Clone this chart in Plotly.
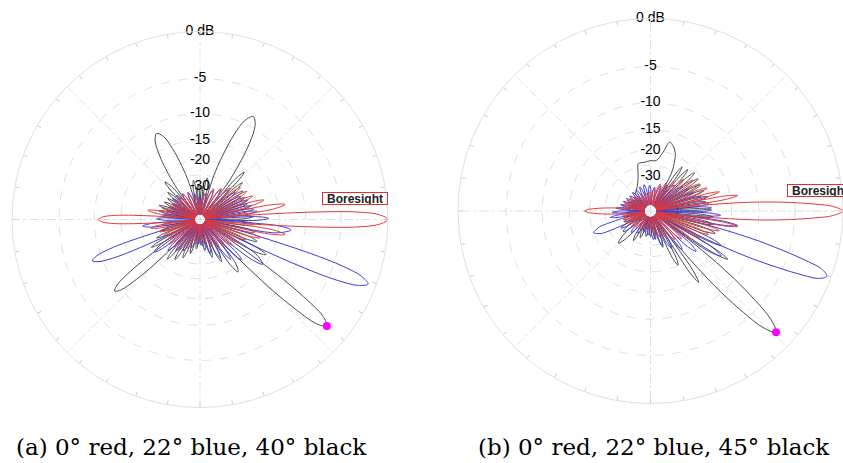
import numpy as np
import plotly.graph_objects as go

# ---------------- scale / labels ----------------
RING_DB = [-30, -25, -20, -15, -10, -5]
LABEL_DB = [-30, -20, -15, -10, -5, 0]
LABEL_TEXT = ["-30", "-20", "-15", "-10", "-5", "0 dB"]

# Pattern vertices: (angle in degrees, gain in dB), in angle order.
# ---------------- panel (a) ----------------
A_RED = [
    (-180, -10.6), (-178.5, -11.4), (-177.3, -13.6), (-176.4, -18), (-175.7, -24.5), (-174.8, -36), (-174, -62),
    (-171.9, -26), (-170, -23), (-168.2, -26), (-166.5, -62),
    (-164.7, -29), (-163, -26), (-161.3, -29), (-159.5, -62),
    (-157.7, -30), (-156, -27), (-154.3, -30), (-152.5, -62),
    (-150.8, -31), (-149, -28), (-147, -31), (-145, -62),
    (-143.3, -30), (-141.5, -27), (-139.5, -30), (-137.5, -62),
    (-135.5, -31), (-133.5, -28), (-131.2, -31), (-129, -62),
    (-126.8, -31), (-124.5, -28), (-121.8, -31), (-119, -62),
    (-116.5, -34), (-114, -31), (-110.8, -34), (-107.5, -62),
    (-104.2, -38), (-101, -35), (-98, -38), (-95, -62),
    (-92.5, -41), (-90, -38), (-87.5, -41), (-85, -62),
    (-82, -38), (-79, -35), (-75.5, -38), (-72, -62),
    (-69, -35), (-66, -32), (-63.2, -35), (-60.5, -62),
    (-58, -33), (-55.5, -30), (-53.2, -33), (-51, -62),
    (-48.7, -31.5), (-46.5, -28.5), (-44.5, -31.5), (-42.5, -62),
    (-40.5, -29.5), (-38.5, -26.5), (-36.5, -29.5), (-34.5, -62),
    (-32.7, -28), (-31, -25), (-29.2, -28), (-27.5, -62),
    (-25.7, -26), (-24, -23), (-22.2, -26), (-20.5, -62),
    (-18.7, -22), (-17, -19), (-15.2, -22), (-13.5, -62),
    (-11.7, -16.5), (-10, -13.5), (-8, -16.5), (-6, -62),
    (-5.2, -26), (-4.3, -14), (-3.6, -7.5), (-2.7, -3), (-1.5, -0.8), (0, 0),
    (1.5, -0.8), (2.7, -3), (3.6, -7.5), (4.3, -14), (5.2, -26), (6, -62),
    (8, -16.5), (10, -13.5), (11.7, -16.5), (13.5, -62),
    (15.2, -21), (17, -18), (18.7, -21), (20.5, -62),
    (22.2, -23.5), (24, -20.5), (25.7, -23.5), (27.5, -62),
    (29.2, -24.5), (31, -21.5), (32.7, -24.5), (34.5, -62),
    (36.5, -25.5), (38.5, -22.5), (40.5, -25.5), (42.5, -62),
    (44.5, -28.5), (46.5, -25.5), (48.7, -28.5), (51, -62),
    (53.2, -31), (55.5, -28), (58, -31), (60.5, -62),
    (63.2, -33), (66, -30), (69, -33), (72, -62),
    (75.5, -37), (79, -34), (82, -37), (85, -62),
    (87.5, -42), (90, -39), (92.5, -42), (95, -62),
    (98, -39), (101, -36), (104.2, -39), (107.5, -62),
    (110.8, -36), (114, -33), (116.5, -36), (119, -62),
    (121.8, -34), (124.5, -31), (126.8, -34), (129, -62),
    (131.2, -35), (133.5, -32), (135.5, -35), (137.5, -62),
    (139.5, -34), (141.5, -31), (143.3, -34), (145, -62),
    (147, -34), (149, -31), (150.8, -34), (152.5, -62),
    (154.3, -33), (156, -30), (157.7, -33), (159.5, -62),
    (161.3, -30), (163, -27), (164.7, -30), (166.5, -62),
    (168.2, -25), (170, -22), (171.9, -25), (174, -62),
    (174.8, -36), (175.7, -24.5), (176.4, -18), (177.3, -13.6), (178.5, -11.4), (180, -10.6),
]

A_BLUE = [
    (-177, -62), (-175.3, -23.5), (-173.5, -20.5), (-171, -23.5), (-165.4, -62),
    (-164.6, -35), (-163.6, -22.6), (-162.9, -16.1), (-161.9, -11.7), (-160.6, -9.4), (-159, -8.5),
    (-157.4, -9.4), (-156.1, -11.7), (-155.1, -16.1), (-154.4, -22.6), (-153.4, -35), (-152.6, -62),
    (-147.5, -24), (-144.5, -21), (-142.3, -24), (-140, -62),
    (-138, -28), (-136, -25), (-133.8, -28), (-131.5, -62),
    (-129.5, -30), (-127.5, -27), (-125.3, -30), (-123, -62),
    (-120.5, -32), (-118, -29), (-115.3, -32), (-112.5, -62),
    (-109.8, -35), (-107, -32), (-104, -35), (-101, -62),
    (-98, -38), (-95, -35), (-92.5, -38), (-90, -62),
    (-87.5, -37), (-85, -34), (-82, -37), (-79, -62),
    (-76, -32), (-73, -29), (-70.2, -32), (-67.5, -62),
    (-64.8, -28.5), (-62, -25.5), (-59.5, -28.5), (-57, -62),
    (-54.8, -26), (-52.5, -23), (-50.2, -26), (-48, -62),
    (-46, -23.5), (-44, -20.5), (-42, -23.5), (-40, -62),
    (-37.8, -18.5), (-35.5, -15.5), (-31.5, -18.5), (-27.4, -62),
    (-26.6, -27), (-25.6, -14.8), (-24.9, -8.3), (-23.9, -3.9), (-22.6, -1.6), (-21, -0.75),
    (-19.4, -1.6), (-18.1, -3.9), (-17.1, -8.3), (-16.4, -14.8), (-15.4, -27), (-14.6, -62),
    (-10, -15.5), (-6.5, -12.5), (-4.5, -15.5), (-2.5, -62),
    (-0.8, -20.5), (1, -17.5), (2.8, -20.5), (4.5, -62),
    (6.2, -23.5), (8, -20.5), (9.8, -23.5), (11.5, -62),
    (13.2, -25), (15, -22), (16.8, -25), (18.5, -62),
    (20.2, -25.5), (22, -22.5), (24, -25.5), (26, -62),
    (27.7, -27), (29.5, -24), (31.5, -27), (33.5, -62),
    (35.5, -28), (37.5, -25), (39.8, -28), (42, -62),
    (44, -29.5), (46, -26.5), (48.5, -29.5), (51, -62),
    (53.2, -31.5), (55.5, -28.5), (58.2, -31.5), (61, -62),
    (63.5, -34), (66, -31), (69, -34), (72, -62),
    (75, -37), (78, -34), (81, -37), (84, -62),
    (87, -39), (90, -36), (93, -39), (96, -62),
    (99, -37), (102, -34), (105, -37), (108, -62),
    (111, -35), (114, -32), (116.5, -35), (119, -62),
    (121.8, -34.5), (124.5, -31.5), (126.8, -34.5), (129, -62),
    (131.5, -33), (134, -30), (136, -33), (138, -62),
    (140.3, -32.5), (142.5, -29.5), (144.5, -32.5), (146.5, -62),
    (148.5, -34), (150.5, -31), (152.3, -34), (154, -62),
    (156, -33.5), (158, -30.5), (159.8, -33.5), (161.5, -62),
    (163.3, -33), (165, -30), (166.8, -33), (168.5, -62),
    (170.3, -31.5), (172, -28.5), (173.8, -31.5), (175.5, -62),
    (177.3, -28.5), (179, -25.5), (181, -28.5),
]

A_BLACK = [
    (-176, -62), (-174, -30.5), (-172, -27.5), (-170, -30.5), (-168, -62),
    (-166, -29.5), (-164, -26.5), (-162.2, -29.5), (-160.5, -62),
    (-158.7, -27), (-157, -24), (-155.3, -27), (-153.5, -62),
    (-151.9, -24), (-150.3, -21), (-148.6, -24), (-146.9, -62),
    (-146.1, -36), (-145.1, -24), (-144.3, -17.4), (-143.3, -13.4), (-141.8, -10.1), (-140, -9.1),
    (-138.2, -10.1), (-136.7, -13.4), (-135.7, -17.4), (-134.9, -24), (-133.9, -36), (-133.1, -62),
    (-131.3, -25.5), (-129.5, -22.5), (-127.6, -25.5), (-125.7, -62),
    (-123.8, -27), (-122, -24), (-120, -27), (-118, -62),
    (-116, -29), (-114, -26), (-112, -29), (-110, -62),
    (-108, -32), (-106, -29), (-103.7, -32), (-101.5, -62),
    (-99.2, -35), (-97, -32), (-95, -35), (-93, -62),
    (-91, -38), (-89, -35), (-87, -38), (-85, -62),
    (-83, -34), (-81, -31), (-78.7, -34), (-76.5, -62),
    (-74.2, -30), (-72, -27), (-69.7, -30), (-67.5, -62),
    (-65.2, -27), (-63, -24), (-60.7, -27), (-58.5, -62),
    (-56.2, -21.5), (-54, -18.5), (-50.5, -21.5), (-46.9, -62),
    (-46.1, -29), (-45.1, -17), (-44.3, -10.5), (-43.3, -6.5), (-41.8, -3.2), (-40, -2.2),
    (-38.2, -3.2), (-36.7, -6.5), (-35.7, -10.5), (-34.9, -17), (-33.9, -29), (-33.1, -62),
    (-30.5, -19), (-28, -16), (-26.2, -19), (-24.5, -62),
    (-22.8, -22.5), (-21, -19.5), (-19, -22.5), (-17, -62),
    (-15, -24), (-13, -21), (-11, -24), (-9, -62),
    (-7, -24.5), (-5, -21.5), (-3, -24.5), (-1, -62),
    (1, -25), (3, -22), (5, -25), (7, -62),
    (9, -24.5), (11, -21.5), (13, -24.5), (15, -62),
    (16.8, -26), (18.5, -23), (20.2, -26), (22, -62),
    (24, -26), (26, -23), (28, -26), (30, -62),
    (31.8, -25.5), (33.5, -22.5), (35.5, -25.5), (37.5, -62),
    (39.3, -24), (41, -21), (42.5, -24), (44, -62),
    (45.5, -21.5), (47, -18.5), (48.8, -21.5), (50.6, -62),
    (52.6, -25), (54.6, -18), (57.1, -12.5), (59.6, -9.5), (62.6, -8.4), (65.6, -9.5),
    (68.1, -12.5), (70.6, -18), (72.6, -25), (74.6, -62),
    (77.3, -29), (80, -26), (81.8, -29), (83.3, -62),
    (84.9, -33), (86.5, -30), (88.2, -33), (89.8, -62),
    (91.4, -32), (93, -29), (94.6, -32), (96.2, -62),
    (97.8, -30), (99.5, -27), (102, -30), (104.7, -62),
    (106.7, -28), (108.7, -21), (111.2, -15.7), (113.7, -12.7), (116.7, -11.6), (119.7, -12.7),
    (122.2, -15.7), (124.7, -21), (126.7, -28), (128.7, -62),
    (130.8, -25.5), (133, -22.5), (134.8, -25.5), (136.5, -62),
    (138.2, -29), (140, -26), (141.8, -29), (143.5, -62),
    (145.2, -30.5), (147, -27.5), (148.8, -30.5), (150.5, -62),
    (152.2, -30), (154, -27), (155.8, -30), (157.5, -62),
    (159.2, -28.5), (161, -25.5), (162.8, -28.5), (164.5, -62),
    (166.2, -29), (168, -26), (169.8, -29), (171.5, -62),
    (173.2, -30.5), (175, -27.5), (176.8, -30.5), (178.5, -62),
]

A_PEAK_THETA = [-40]
A_PEAK_DB = [-2.2]

# ---------------- panel (b) ----------------
B_RED = [
    (-180, -18.6), (-178.5, -19.6), (-177.7, -21.1), (-176.5, -24.1), (-175.5, -27.6), (-174.8, -31), (-174, -37.6),
    (-173, -60),
    (-171.2, -36), (-169.5, -33), (-167.8, -36), (-166, -60),
    (-164.2, -36), (-162.5, -33), (-160.8, -36), (-159, -60),
    (-157.2, -37), (-155.5, -34), (-153.8, -37), (-152, -60),
    (-150, -38), (-148, -35), (-146, -38), (-144, -60),
    (-141.8, -39), (-139.5, -36), (-137.2, -39), (-135, -60),
    (-132.5, -40), (-130, -37), (-127.5, -40), (-125, -60),
    (-122, -41), (-119, -38), (-116, -41), (-113, -60),
    (-109.5, -43), (-106, -40), (-102.5, -43), (-99, -60),
    (-96, -43), (-93, -40), (-90.5, -43), (-88, -60),
    (-85, -40), (-82, -37), (-79, -40), (-76, -60),
    (-73, -37), (-70, -34), (-67.2, -37), (-64.5, -60),
    (-61.8, -34), (-59, -31), (-56.8, -34), (-54.5, -60),
    (-52.2, -31.5), (-50, -28.5), (-48, -31.5), (-46, -60),
    (-44, -29.5), (-42, -26.5), (-40.2, -29.5), (-38.5, -60),
    (-36.8, -27), (-35, -24), (-33.2, -27), (-31.5, -60),
    (-29.8, -24.5), (-28, -21.5), (-26.5, -24.5), (-25, -60),
    (-23.5, -22.5), (-22, -19.5), (-20.5, -22.5), (-19, -60),
    (-17.5, -20.2), (-16, -17.2), (-14.5, -20.2), (-13, -60),
    (-11.5, -16.5), (-10, -13.5), (-8.7, -16.5), (-7.4, -60),
    (-6.8, -30), (-6, -19), (-5.2, -12.5), (-4.5, -9), (-3.5, -5.5), (-2.3, -2.5), (-1.5, -1.0), (0, 0),
    (1.5, -1.0), (2.3, -2.5), (3.5, -5.5), (4.5, -9), (5.2, -12.5), (6, -19), (6.8, -30), (7.4, -60),
    (8.7, -16.5), (10, -13.5), (11.5, -16.5), (13, -60),
    (14.2, -20.2), (15.5, -17.2), (17, -20.2), (18.5, -60),
    (20.2, -23), (22, -20), (23.8, -23), (25.5, -60),
    (27.2, -24.5), (29, -21.5), (30.8, -24.5), (32.5, -60),
    (34.2, -25.5), (36, -22.5), (38, -25.5), (40, -60),
    (41.7, -28), (43.5, -25), (45.5, -28), (47.5, -60),
    (49.5, -31.5), (51.5, -28.5), (53.8, -31.5), (56, -60),
    (58.2, -34), (60.5, -31), (62.8, -34), (65, -60),
    (67.5, -36), (70, -33), (72.8, -36), (75.5, -60),
    (78.2, -40), (81, -37), (84, -40), (87, -60),
    (90, -43), (93, -40), (96, -43), (99, -60),
    (102.5, -43), (106, -40), (109.5, -43), (113, -60),
    (116, -43), (119, -40), (122, -43), (125, -60),
    (127.5, -43), (130, -40), (132.5, -43), (135, -60),
    (137.2, -41), (139.5, -38), (141.8, -41), (144, -60),
    (146, -39), (148, -36), (150, -39), (152, -60),
    (153.8, -38), (155.5, -35), (157.2, -38), (159, -60),
    (160.8, -37), (162.5, -34), (164.2, -37), (166, -60),
    (167.8, -36), (169.5, -33), (171.2, -36), (173, -60),
    (174, -37.6), (174.8, -31), (175.5, -27.6), (176.5, -24.1), (177.7, -21.1), (178.5, -19.6), (180, -18.6),
]

B_BLUE = [
    (-174.5, -60), (-172.7, -30), (-171, -27), (-169, -30), (-167, -60),
    (-166.2, -40), (-165.4, -32.4), (-164.5, -28.9), (-163.8, -25.3), (-162.7, -22.2), (-160.6, -20.7), (-159, -20),
    (-157.4, -20.7), (-155.3, -22.2), (-154.2, -25.3), (-153.5, -28.9), (-152.6, -32.4), (-151.8, -40), (-151, -60),
    (-146.5, -33), (-143, -30), (-140.2, -33), (-137.5, -60),
    (-134.8, -36), (-132, -33), (-129, -36), (-126, -60),
    (-123, -38), (-120, -35), (-117, -38), (-114, -60),
    (-111, -40), (-108, -37), (-105, -40), (-102, -60),
    (-99, -39), (-96, -36), (-93, -39), (-90, -60),
    (-87, -36), (-84, -33), (-80.8, -36), (-77.5, -60),
    (-74.5, -32), (-71.5, -29), (-68.8, -32), (-66, -60),
    (-63.2, -29), (-60.5, -26), (-58, -29), (-55.5, -60),
    (-53, -26.5), (-50.5, -23.5), (-48.2, -26.5), (-46, -60),
    (-43.8, -23), (-41.5, -20), (-39.2, -23), (-37, -60),
    (-34.8, -17.5), (-32.5, -14.5), (-30.3, -17.5), (-28.2, -60),
    (-27.5, -30), (-26.7, -19.5), (-25.8, -12.8), (-25.1, -9.3), (-24, -5.7), (-22.8, -2.6), (-21.9, -1.1),
    (-20.3, -0.4), (-18.7, -1.1), (-17.8, -2.6), (-16.6, -5.7), (-15.5, -9.3), (-14.8, -12.8), (-13.9, -19.5),
    (-13.1, -30), (-12.4, -60),
    (-11, -16.5), (-9.5, -13.5), (-8, -16.5), (-6.5, -60),
    (-5, -20.5), (-3.5, -17.5), (-2, -20.5), (-0.5, -60),
    (1.2, -23), (3, -20), (4.7, -23), (6.3, -60),
    (7.9, -24.5), (9.5, -21.5), (11.1, -24.5), (12.7, -60),
    (14.3, -25.5), (16, -22.5), (17.8, -25.5), (19.5, -60),
    (21.2, -27.5), (23, -24.5), (24.8, -27.5), (26.5, -60),
    (28.2, -28.5), (30, -25.5), (32, -28.5), (34, -60),
    (36, -30), (38, -27), (40.2, -30), (42.5, -60),
    (44.7, -32.5), (47, -29.5), (49.5, -32.5), (52, -60),
    (54.5, -35), (57, -32), (59.7, -35), (62.5, -60),
    (65.2, -37), (68, -34), (71, -37), (74, -60),
    (77, -39), (80, -36), (83, -39), (86, -60),
    (89, -38), (92, -35), (95, -38), (98, -60),
    (101, -37), (104, -34), (106.5, -37), (109, -60),
    (111.5, -37.5), (114, -34.5), (116.5, -37.5), (119, -60),
    (121.5, -38), (124, -35), (126.5, -38), (129, -60),
    (131.5, -38), (134, -35), (136.5, -38), (139, -60),
    (141.5, -38), (144, -35), (146.3, -38), (148.5, -60),
    (150.8, -37), (153, -34), (155, -37), (157, -60),
    (159, -36), (161, -33), (162.8, -36), (164.5, -60),
    (166.3, -35), (168, -32), (169.8, -35), (171.5, -60),
    (173.3, -33), (175, -30), (176.8, -33), (178.5, -60),
    (180.3, -31), (182, -28), (183.5, -31),
]

B_BLACK = [
    (-178, -39), (-176, -36), (-173.8, -39), (-171.5, -60),
    (-169.2, -38), (-167, -35), (-164.8, -38), (-162.5, -60),
    (-160.2, -36), (-158, -33), (-156, -36), (-154, -60),
    (-152, -33), (-150, -30), (-147.5, -33), (-145, -60),
    (-142, -38), (-139, -30), (-137, -26.5), (-135, -25), (-133, -26.5), (-131, -30), (-128, -38), (-125, -60),
    (-122.5, -33), (-120, -30), (-118, -33), (-116, -60),
    (-113.5, -36), (-111, -33), (-108.5, -36), (-106, -60),
    (-103, -38), (-100, -35), (-97.5, -38), (-95, -60),
    (-92.5, -38), (-90, -35), (-87.5, -38), (-85, -60),
    (-82.5, -36), (-80, -33), (-77.8, -36), (-75.5, -60),
    (-73.2, -31), (-71, -28), (-69, -31), (-67, -60),
    (-65, -23), (-63, -20), (-61, -23), (-59, -60),
    (-57.5, -17), (-56, -14), (-54.4, -17), (-52.8, -60),
    (-52, -31), (-51, -21), (-50, -14.5), (-49, -10), (-47.5, -5.8), (-46, -3.0), (-44, -1.7),
    (-42, -3.0), (-40.5, -5.8), (-39, -10), (-38, -14.5), (-37, -21), (-36, -31), (-35.2, -60),
    (-33.6, -16), (-32, -13), (-30.5, -16), (-29, -60),
    (-27.5, -18.5), (-26, -15.5), (-24.2, -18.5), (-22.5, -60),
    (-20.8, -21), (-19, -18), (-17.2, -21), (-15.5, -60),
    (-13.8, -22), (-12, -19), (-10.3, -22), (-8.7, -60),
    (-7.1, -22.5), (-5.5, -19.5), (-3.8, -22.5), (-2.2, -60),
    (-0.6, -23), (1, -20), (2.6, -23), (4.2, -60),
    (5.8, -23.5), (7.5, -20.5), (9.2, -23.5), (10.8, -60),
    (12.4, -23.5), (14, -20.5), (15.8, -23.5), (17.5, -60),
    (19.2, -24), (21, -21), (22.6, -24), (24.2, -60),
    (25.8, -24.3), (27.5, -21.3), (29.2, -24.3), (30.8, -60),
    (32.4, -24), (34, -21), (35.8, -24), (37.5, -60),
    (39.2, -23.8), (41, -20.8), (42.8, -23.8), (44.5, -60),
    (46.2, -24.5), (48, -21.5), (49.5, -24.5), (51, -60),
    (52.8, -25), (54.5, -22), (56, -25), (57.5, -60),
    (61, -26), (64.4, -21.5), (67, -19.3), (71, -17.8), (74.4, -17.2), (77.9, -20.2), (83.3, -23.1), (90, -23.3),
    (96.5, -23.7), (104.5, -23.8), (107, -26), (110.4, -29.4), (117, -33), (124, -35.3), (131, -37), (136, -60),
    (139, -41), (141, -38), (143.2, -41), (145.5, -60),
    (147.8, -41), (150, -38), (152, -41), (154, -60),
    (156, -40), (158, -37), (160, -40), (162, -60),
    (164, -40), (166, -37), (168, -40), (170, -60),
    (172.5, -39), (175, -36), (177.2, -39), (179.5, -60),
]

B_PEAK_THETA = [-44]
B_PEAK_DB = [-1.7]

CAPTION_A = "(a) 0° red, 22° blue, 40° black"
CAPTION_B = "(b) 0° red, 22° blue, 45° black"

RED = "#e23b3b"
BLUE = "#3b3bdc"
BLACK = "#4a4a4a"
GRID = "#e0e0e0"


def rad(db):
    return 10 ** (np.asarray(db, dtype=float) / 40.0)


def split(pairs):
    pts = list(pairs) + [pairs[0]]
    return [p[0] for p in pts], [p[1] for p in pts]


fig = go.Figure()

panels = [
    ("polar", [(A_BLACK, BLACK), (A_BLUE, BLUE), (A_RED, RED)], A_PEAK_THETA, A_PEAK_DB),
    ("polar2", [(B_BLACK, BLACK), (B_BLUE, BLUE), (B_RED, RED)], B_PEAK_THETA, B_PEAK_DB),
]

for sub, traces, pth, pdb in panels:
    for pairs, col in traces:
        th, db = split(pairs)
        fig.add_trace(go.Scatterpolar(
            theta=th, r=rad(db), mode="lines",
            line=dict(color=col, width=1, shape="spline", smoothing=1.0),
            subplot=sub, showlegend=False, hoverinfo="skip"))
    fig.add_trace(go.Scatterpolar(
        theta=pth, r=rad(pdb), mode="markers",
        marker=dict(color="#ff00ff", size=8, line=dict(width=0)),
        subplot=sub, showlegend=False, hoverinfo="skip", cliponaxis=False))
    fig.add_trace(go.Scatterpolar(
        theta=[90] * len(LABEL_DB), r=rad(LABEL_DB), mode="text", text=LABEL_TEXT,
        textposition="middle center",
        textfont=dict(family="Liberation Sans, Arial, sans-serif", size=14, color="black"),
        subplot=sub, showlegend=False, hoverinfo="skip", cliponaxis=False))

# overlays carrying the small angular tick marks
for sub in ("polar3", "polar4"):
    fig.add_trace(go.Scatterpolar(theta=[], r=[], mode="lines", subplot=sub, showlegend=False, hoverinfo="skip"))


def polar_cfg(dx, dy):
    return dict(
        domain=dict(x=dx, y=dy),
        bgcolor="white",
        radialaxis=dict(range=[0, 1], tickvals=[float(v) for v in rad(RING_DB)],
                        showticklabels=False, ticks="", showline=False,
                        gridcolor=GRID, griddash="dash", gridwidth=1),
        angularaxis=dict(rotation=0, direction="counterclockwise", tick0=0, dtick=45,
                         showticklabels=False, ticks="", showline=True, linecolor=GRID,
                         linewidth=1, gridcolor=GRID, griddash="dashdot", gridwidth=1),
    )


def tick_cfg(dx, dy):
    return dict(
        domain=dict(x=dx, y=dy),
        bgcolor="rgba(0,0,0,0)",
        radialaxis=dict(range=[0, 1], visible=False),
        angularaxis=dict(rotation=0, direction="counterclockwise", tick0=0, dtick=10,
                         showticklabels=False, ticks="inside", ticklen=4, tickcolor="#cfcfcf",
                         tickwidth=1, showline=False, showgrid=False),
    )


W, H = 843, 463
DA = ([12 / W, 388 / W], [55.5 / H, 431.5 / H])
DB = ([458 / W, 1.0], [59.5 / H, 444.5 / H])
box_font = dict(family="Liberation Sans, Arial", size=12, color="#222")
fig.update_layout(
    width=W, height=H, margin=dict(l=0, r=0, t=0, b=0),
    paper_bgcolor="white", plot_bgcolor="white",
    polar=polar_cfg(*DA), polar2=polar_cfg(*DB),
    polar3=tick_cfg(*DA), polar4=tick_cfg(*DB),
    annotations=[
        dict(text="<b>Boresight</b>", x=355 / W, y=1 - 198.5 / H, xref="paper", yref="paper",
             xanchor="center", yanchor="middle",
             showarrow=False, bordercolor="#e03030", borderwidth=1, bgcolor="white", borderpad=0,
             width=64, height=11, font=box_font),
        dict(text="<b>Boresight</b>", x=819.7 / W, y=1 - 190.3 / H, xref="paper", yref="paper",
             xanchor="center", yanchor="middle",
             showarrow=False, bordercolor="#e03030", borderwidth=1, bgcolor="white", borderpad=0,
             width=64, height=11, font=box_font),
        dict(text=CAPTION_A, x=191.5 / W, y=1 - 447 / H, xref="paper", yref="paper", showarrow=False,
             xanchor="center", yanchor="middle",
             font=dict(family="DejaVu Serif, serif", size=23, color="black")),
        dict(text=CAPTION_B, x=653.5 / W, y=1 - 447 / H, xref="paper", yref="paper", showarrow=False,
             xanchor="center", yanchor="middle",
             font=dict(family="DejaVu Serif, serif", size=23, color="black")),
    ],
)

fig.write_html("out.html")
